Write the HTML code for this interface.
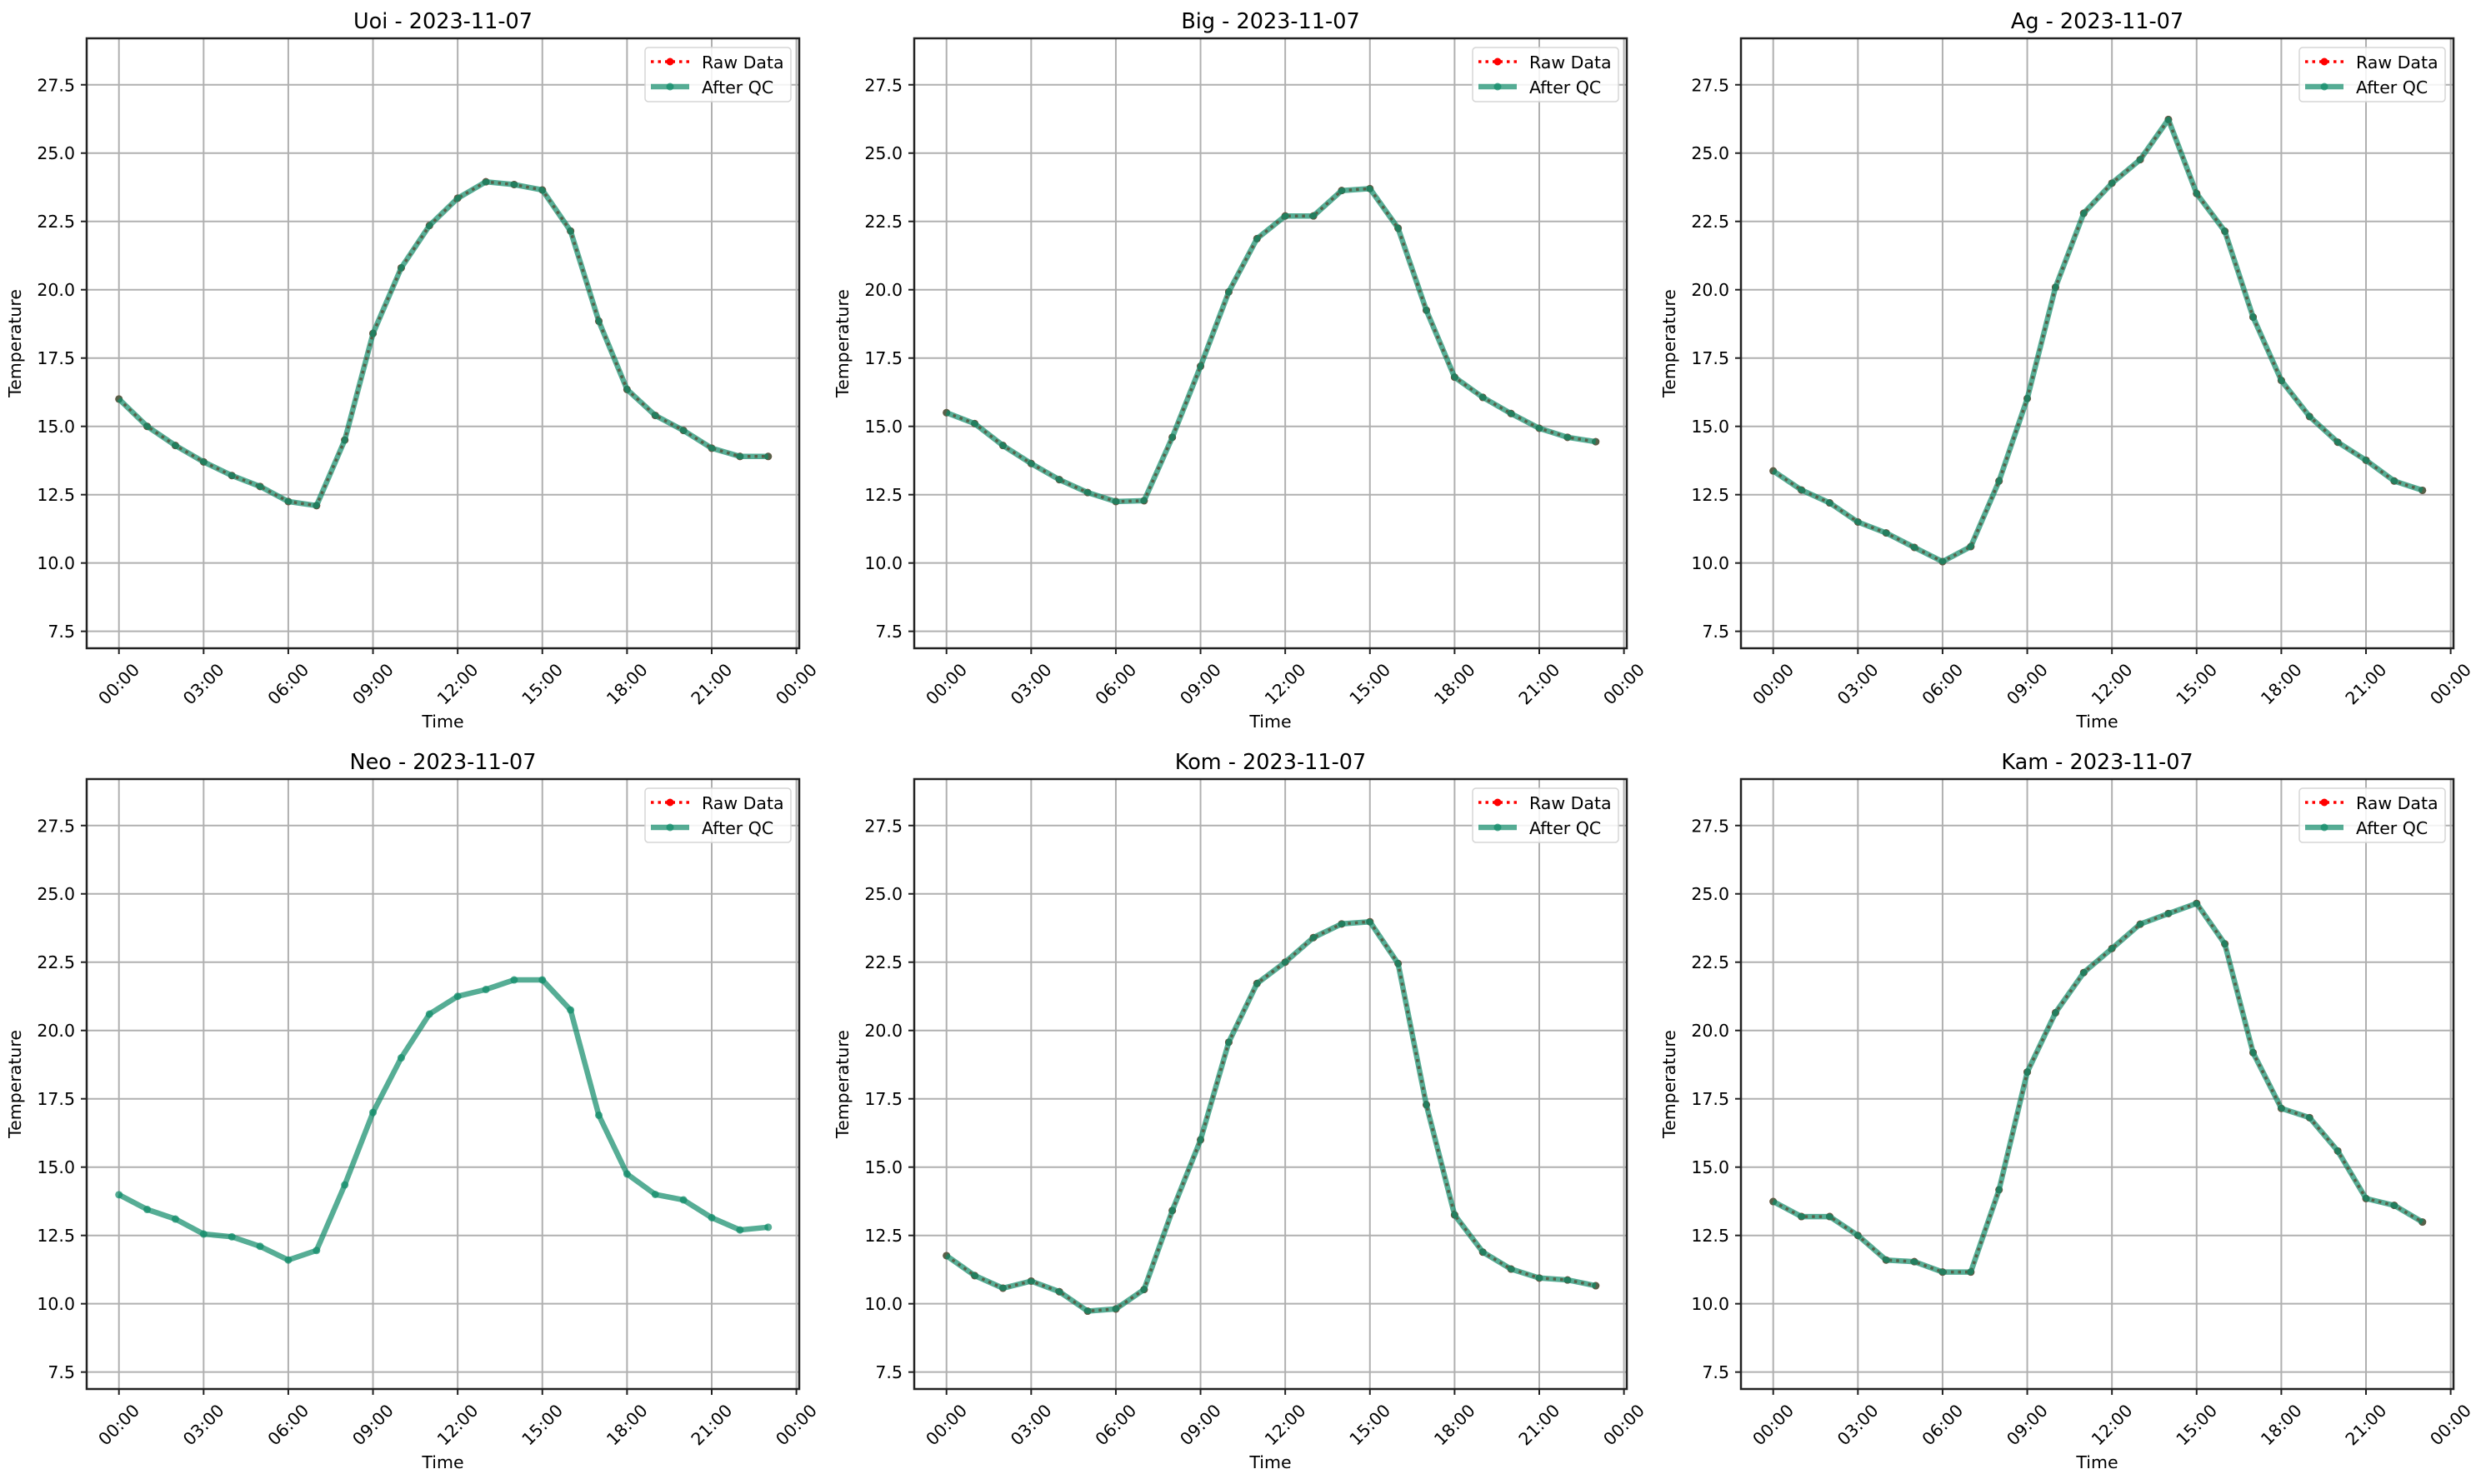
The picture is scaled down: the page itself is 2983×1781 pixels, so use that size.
<!DOCTYPE html>
<html><head><meta charset="utf-8">
<style>
html,body{margin:0;padding:0;background:#fff;}
svg{display:block;font-family:"DejaVu Sans","Liberation Sans",sans-serif;}
</style></head>
<body>
<svg id="fig" width="2983" height="1781" viewBox="0 0 2983 1781" xmlns="http://www.w3.org/2000/svg"></svg>
<script>
const stations = ["Uoi","Big","Ag","Neo","Kom","Kam"];
const dateLabel = "2023-11-07";
const hours = [0,1,2,3,4,5,6,7,8,9,10,11,12,13,14,15,16,17,18,19,20,21,22,23];
const uoiValues = [16.0,15.0,14.3,13.7,13.2,12.8,12.25,12.1,14.5,18.4,20.8,22.35,23.35,23.95,23.85,23.65,22.15,18.85,16.35,15.4,14.85,14.2,13.9,13.9];
const bigValues = [15.5,15.1,14.3,13.64,13.05,12.58,12.25,12.28,14.6,17.2,19.92,21.87,22.7,22.7,23.63,23.7,22.25,19.25,16.8,16.06,15.47,14.93,14.6,14.44];
const agValues = [13.37,12.67,12.2,11.5,11.1,10.57,10.05,10.6,13.0,16.02,20.09,22.8,23.9,24.76,26.23,23.52,22.14,19.0,16.68,15.36,14.42,13.76,13.0,12.66];
const neoValues = [13.99,13.45,13.1,12.55,12.45,12.1,11.6,11.95,14.35,17.0,19.0,20.6,21.25,21.5,21.85,21.85,20.75,16.9,14.75,14.0,13.8,13.15,12.7,12.8];
const komValues = [11.76,11.03,10.57,10.83,10.44,9.73,9.81,10.52,13.41,16.0,19.57,21.72,22.5,23.4,23.9,23.98,22.45,17.28,13.25,11.89,11.27,10.94,10.87,10.66];
const kamValues = [13.74,13.19,13.19,12.5,11.6,11.54,11.16,11.16,14.17,18.48,20.65,22.12,23.0,23.89,24.28,24.65,23.17,19.19,17.15,16.81,15.59,13.85,13.6,12.99];
const rawVisible = [true,true,true,false,true,true];
const yTicks = [7.5,10.0,12.5,15.0,17.5,20.0,22.5,25.0,27.5];
const xTickHours = [0,3,6,9,12,15,18,21,24];
const xTickLabels = ["00:00","03:00","06:00","09:00","12:00","15:00","18:00","21:00","00:00"];
const allValues = [uoiValues,bigValues,agValues,neoValues,komValues,kamValues];

const NS = "http://www.w3.org/2000/svg";
const fig = document.getElementById("fig");
function mk(tag, attrs, parent){
  const e = document.createElementNS(NS, tag);
  for (const k in attrs) e.setAttribute(k, attrs[k]);
  (parent||fig).appendChild(e);
  return e;
}
const W = 855, H = 732;
const X_MIN = -1.143, X_MAX = 24.1, Y_MIN = 6.88, Y_MAX = 29.2;
const lefts = [104, 1097, 2089];
const tops = [46, 935];

stations.forEach((st, i) => {
  const L = lefts[i % 3], T = tops[Math.floor(i / 3)];
  const xs = h => L + (h - X_MIN) / (X_MAX - X_MIN) * W;
  const ys = v => T + H - (v - Y_MIN) / (Y_MAX - Y_MIN) * H;
  const g = mk("g", {});
  
  
  // grid
  xTickHours.forEach(h => {
    const ln = mk("line", {x1: xs(h), x2: xs(h), y1: T, y2: T + H, stroke: "#b0b0b0", "stroke-width": 2}, g);
    
    
  });
  yTicks.forEach(v => {
    const ln = mk("line", {x1: L, x2: L + W, y1: ys(v), y2: ys(v), stroke: "#b0b0b0", "stroke-width": 2}, g);
    
    
  });
  const vals = allValues[i];
  const pts = hours.map((h, k) => xs(h).toFixed(1) + "," + ys(vals[k]).toFixed(1)).join(" ");
  if (rawVisible[i]) {
    const raw = mk("polyline", {points: pts, fill: "none", stroke: "#ff0000", "stroke-width": 3.5, "stroke-dasharray": "3.5 5"}, g);
    
    
    hours.forEach((h, k) => {
      const c = mk("circle", {cx: xs(h), cy: ys(vals[k]), r: 4.5, fill: "#ff0000"}, g);
      
      
    });
  }
  const qc = mk("polyline", {points: pts, fill: "none", stroke: "#0e8a68", "stroke-opacity": 0.7, "stroke-width": 6.5, "stroke-linejoin": "round"}, g);
  
  
  hours.forEach((h, k) => {
    const c = mk("circle", {cx: xs(h), cy: ys(vals[k]), r: 4.5, fill: "#0e8a68", "fill-opacity": 0.7}, g);
    
    
  });
  // spines
  const fr = mk("rect", {x: L, y: T, width: W, height: H, fill: "none", stroke: "#222", "stroke-width": 2.5}, g);
  
  
  // y ticks
  yTicks.forEach(v => {
    mk("line", {x1: L - 7, x2: L, y1: ys(v), y2: ys(v), stroke: "#222", "stroke-width": 2}, g);
    const t = mk("text", {x: L - 14, y: ys(v) + 7.5, "text-anchor": "end", "font-size": 20.5, fill: "#000"}, g);
    t.textContent = v.toFixed(1);
    
    
  });
  // x ticks
  xTickHours.forEach((h, k) => {
    mk("line", {x1: xs(h), x2: xs(h), y1: T + H, y2: T + H + 7, stroke: "#222", "stroke-width": 2}, g);
    const cx = xs(h), cy = T + H + 43;
    const t = mk("text", {x: cx, y: cy + 7, "text-anchor": "middle", "font-size": 20.5, fill: "#000", transform: "rotate(-45 " + cx + " " + cy + ")"}, g);
    t.textContent = xTickLabels[k];
    
    
  });
  const tt = mk("text", {x: L + W / 2, y: T - 12, "text-anchor": "middle", "font-size": 25.5, fill: "#000"}, g);
  tt.textContent = st + " - " + dateLabel;
  
  
  const xl = mk("text", {x: L + W / 2, y: T + H + 95, "text-anchor": "middle", "font-size": 20.5, fill: "#000"}, g);
  xl.textContent = "Time";
  
  
  const yc = T + H / 2;
  const yl = mk("text", {x: L - 79, y: yc, "text-anchor": "middle", "font-size": 20.5, fill: "#000", transform: "rotate(-90 " + (L - 79) + " " + yc + ")"}, g);
  yl.textContent = "Temperature";
  
  
  // legend
  const lg = mk("g", {}, g);
  
  
  const lx = L + W - 185, ly = T + 11;
  mk("rect", {x: lx, y: ly, width: 175, height: 65, rx: 4, fill: "#fff", "fill-opacity": 0.85, stroke: "#d5d5d5", "stroke-width": 1.5}, lg);
  mk("line", {x1: lx + 7, x2: lx + 53, y1: ly + 17, y2: ly + 17, stroke: "#ff0000", "stroke-width": 3.5, "stroke-dasharray": "3.5 5"}, lg);
  mk("circle", {cx: lx + 30, cy: ly + 17, r: 4.5, fill: "#ff0000"}, lg);
  const t1 = mk("text", {x: lx + 68, y: ly + 25, "font-size": 20.5, fill: "#000"}, lg);
  t1.textContent = "Raw Data";
  
  
  mk("line", {x1: lx + 7, x2: lx + 53, y1: ly + 47, y2: ly + 47, stroke: "#0e8a68", "stroke-opacity": 0.7, "stroke-width": 6.5}, lg);
  mk("circle", {cx: lx + 30, cy: ly + 47, r: 4.5, fill: "#0e8a68", "fill-opacity": 0.7}, lg);
  const t2 = mk("text", {x: lx + 68, y: ly + 55, "font-size": 20.5, fill: "#000"}, lg);
  t2.textContent = "After QC";
  
  
});
</script>
</body></html>
